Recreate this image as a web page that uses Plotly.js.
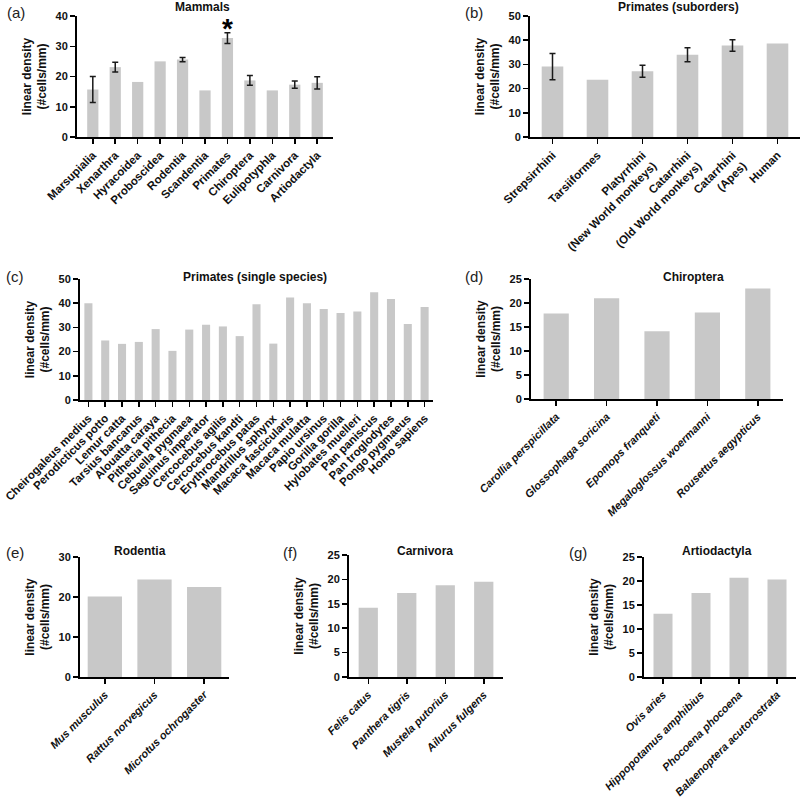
<!DOCTYPE html>
<html>
<head>
<meta charset="utf-8">
<script src="https://cdn.plot.ly/plotly-3.0.1.min.js"></script>
<style>
  html, body { margin: 0; padding: 0; background: #fff; }
  #chart { width: 800px; height: 801px; }
</style>
</head>
<body>
<div id="chart"></div>
<script>
// (a) Mammals
const mammalOrders = ['Marsupialia', 'Xenarthra', 'Hyracoidea', 'Proboscidea', 'Rodentia', 'Scandentia',
    'Primates', 'Chiroptera', 'Eulipotyphla', 'Carnivora', 'Artiodactyla'];
const mammalDensity = [15.7, 23.1, 18.2, 25.0, 25.6, 15.4, 32.7, 18.7, 15.4, 17.3, 17.9];
const mammalErr = [4.3, 1.6, null, null, 0.7, null, 1.8, 1.6, null, 1.2, 2.0];

// (b) Primates (suborders)
const suborders = ['Strepsirrhini', 'Tarsiiformes', 'Platyrrhini<br>(New World monkeys)',
    'Catarrhini<br>(Old World monkeys)', 'Catarrhini<br>(Apes)', 'Human'];
const suborderDensity = [29.1, 23.7, 27.2, 34.0, 37.8, 38.6];
const suborderErr = [5.4, null, 2.5, 2.9, 2.4, null];

// (c) Primates (single species)
const primateSpecies = ['Cheirogaleus medius', 'Perodicticus potto', 'Lemur catta', 'Tarsius bancanus',
    'Alouatta caraya', 'Pithecia pithecia', 'Cebuella pygmaea', 'Saguinus imperator', 'Cercocebus agilis',
    'Cercocebus kandti', 'Erythrocebus patas', 'Mandrillus sphynx', 'Macaca fascicularis', 'Macaca mulatta',
    'Papio ursinus', 'Gorilla gorilla', 'Hylobates muelleri', 'Pan paniscus', 'Pan troglodytes',
    'Pongo pygmaeus', 'Homo sapiens'];
const primateDensity = [40.0, 24.6, 23.2, 24.0, 29.3, 20.3, 29.1, 31.1, 30.4, 26.4, 39.6, 23.3,
    42.4, 40.0, 37.6, 35.9, 36.6, 44.5, 41.7, 31.4, 38.4];

// (d) Chiroptera
const batSpecies = ['Carollia perspicillata', 'Glossophaga soricina', 'Epomops franqueti',
    'Megaloglossus woermanni', 'Rousettus aegypticus'];
const batDensity = [17.8, 21.0, 14.1, 18.0, 23.0];

// (e) Rodentia
const rodentSpecies = ['Mus musculus', 'Rattus norvegicus', 'Microtus ochrogaster'];
const rodentDensity = [20.1, 24.4, 22.5];

// (f) Carnivora
const carnivoreSpecies = ['Felis catus', 'Panthera tigris', 'Mustela putorius', 'Ailurus fulgens'];
const carnivoreDensity = [14.2, 17.2, 18.8, 19.5];

// (g) Artiodactyla
const artioSpecies = ['Ovis aries', 'Hippopotamus amphibius', 'Phocoena phocoena', 'Balaenoptera acutorostrata'];
const artioDensity = [13.2, 17.5, 20.7, 20.3];

const W = 800, H = 801;
const FONT = 'Liberation Sans, Arial, Helvetica, sans-serif';
const barColor = '#c8c8c8';

function xDom(left, right) { return [left / W, right / W]; }
function yDom(top, bottom) { return [1 - bottom / H, 1 - top / H]; }
function axId(n) { return n === 1 ? '' : String(n); }

function barTrace(x, y, n, width) {
    return {
        x: x, y: y, type: 'bar',
        xaxis: 'x' + axId(n), yaxis: 'y' + axId(n),
        width: width || 0.5,
        marker: { color: barColor },
        hoverinfo: 'x+y'
    };
}

// error bars only where there is a spread (single-species bars have none)
function errTrace(x, y, err, n) {
    const keep = err.map((e, i) => e != null ? i : -1).filter(i => i >= 0);
    return {
        x: keep.map(i => x[i]), y: keep.map(i => y[i]),
        type: 'scatter', mode: 'markers', marker: { size: 1, color: 'rgba(0,0,0,0)' },
        xaxis: 'x' + axId(n), yaxis: 'y' + axId(n),
        error_y: { type: 'data', array: keep.map(i => err[i]), visible: true, color: '#1a1a1a', thickness: 1.5, width: 3 },
        hoverinfo: 'skip'
    };
}

function xAxis(dom, anchor, italic) {
    return {
        domain: dom, anchor: anchor, type: 'category',
        showline: true, linecolor: '#000', linewidth: 2,
        ticks: 'outside', ticklen: 5, tickwidth: 1.5, tickcolor: '#000',
        tickangle: -45, showgrid: false, zeroline: false, fixedrange: true,
        tickfont: { family: FONT, size: italic ? 11 : 11.5, color: '#111', weight: 'bold', style: italic ? 'italic' : 'normal' }
    };
}

function yAxis(dom, anchor, max, dtick) {
    return {
        domain: dom, anchor: anchor, range: [0, max], dtick: dtick,
        showline: true, linecolor: '#000', linewidth: 2,
        ticks: 'outside', ticklen: 5, tickwidth: 1.5, tickcolor: '#000',
        showgrid: false, zeroline: false, fixedrange: true,
        tickfont: { family: FONT, size: 11, color: '#111', weight: 'bold' },
        title: { text: 'linear density<br>(#cells/mm)', font: { family: FONT, size: 12, color: '#111', weight: 'bold' }, standoff: 6 }
    };
}

const data = [
    barTrace(mammalOrders, mammalDensity, 1, 0.5),
    errTrace(mammalOrders, mammalDensity, mammalErr, 1),
    barTrace(suborders, suborderDensity, 2, 0.48),
    errTrace(suborders, suborderDensity, suborderErr, 2),
    barTrace(primateSpecies, primateDensity, 3, 0.48),
    barTrace(batSpecies, batDensity, 4, 0.5),
    barTrace(rodentSpecies, rodentDensity, 5, 0.69),
    barTrace(carnivoreSpecies, carnivoreDensity, 6, 0.5),
    barTrace(artioSpecies, artioDensity, 7, 0.5)
];

function letter(txt, x, y) {
    return { text: txt, x: x / W, y: 1 - y / H, xref: 'paper', yref: 'paper', showarrow: false,
        xanchor: 'center', yanchor: 'middle', font: { family: FONT, size: 15, color: '#222' } };
}
function panelTitle(txt, x, y) {
    return { text: txt, x: x / W, y: 1 - y / H, xref: 'paper', yref: 'paper', showarrow: false,
        xanchor: 'center', yanchor: 'middle', font: { family: FONT, size: 12, color: '#111', weight: 'bold' } };
}

const layout = {
    width: W, height: H,
    margin: { l: 0, r: 0, t: 0, b: 0 },
    paper_bgcolor: '#fff', plot_bgcolor: '#fff',
    showlegend: false,
    font: { family: FONT },
    xaxis: xAxis(xDom(77, 333), 'y', false),
    yaxis: yAxis(yDom(16, 137), 'x', 40, 10),
    xaxis2: xAxis(xDom(530, 800), 'y2', false),
    yaxis2: yAxis(yDom(16, 137), 'x2', 50, 10),
    xaxis3: xAxis(xDom(80, 433), 'y3', false),
    yaxis3: yAxis(yDom(279, 400), 'x3', 50, 10),
    xaxis4: xAxis(xDom(531, 783), 'y4', true),
    yaxis4: yAxis(yDom(279, 399), 'x4', 25, 5),
    xaxis5: xAxis(xDom(80, 229), 'y5', true),
    yaxis5: yAxis(yDom(557, 677), 'x5', 30, 10),
    xaxis6: xAxis(xDom(349, 503), 'y6', true),
    yaxis6: yAxis(yDom(555, 677), 'x6', 25, 5),
    xaxis7: xAxis(xDom(644, 796), 'y7', true),
    yaxis7: yAxis(yDom(557, 677), 'x7', 25, 5),
    annotations: [
        letter('(a)', 16, 12), panelTitle('Mammals', 202, 7),
        letter('(b)', 474, 12), panelTitle('Primates (suborders)', 678, 7),
        letter('(c)', 15, 277), panelTitle('Primates (single species)', 255, 277),
        letter('(d)', 474, 277), panelTitle('Chiroptera', 693, 277),
        letter('(e)', 15, 552), panelTitle('Rodentia', 140, 551),
        letter('(f)', 290, 552), panelTitle('Carnivora', 425, 551),
        letter('(g)', 578, 552), panelTitle('Artiodactyla', 717, 551),
        { text: '*', x: 'Primates', y: 35.8, xref: 'x', yref: 'y', showarrow: false,
          yanchor: 'middle', font: { family: FONT, size: 28, color: '#000', weight: 'bold' } }
    ]
};

Plotly.newPlot('chart', data, layout, { displayModeBar: false, staticPlot: true });
</script>
</body>
</html>
